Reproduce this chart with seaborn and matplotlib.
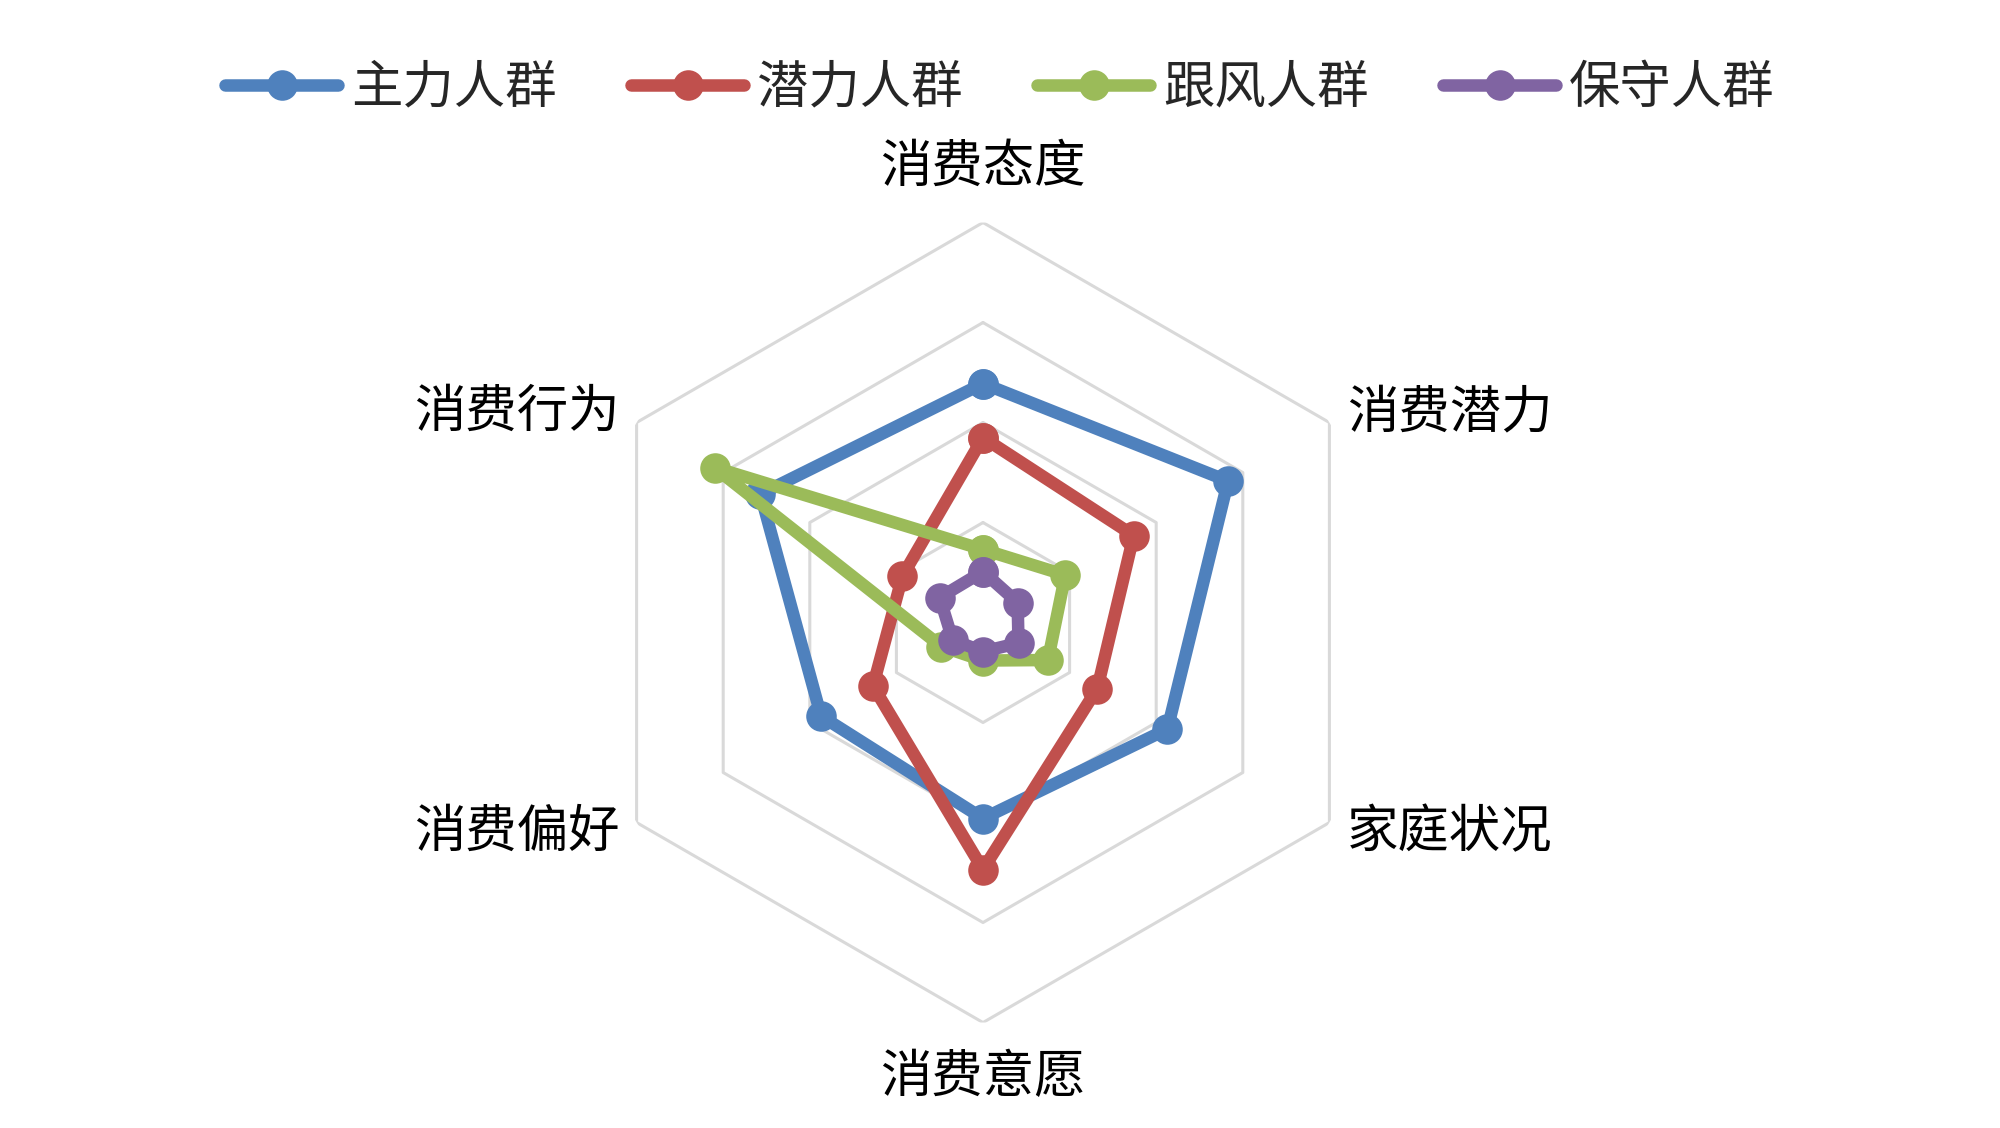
import numpy as np
import pandas as pd
import matplotlib
matplotlib.use("Agg")
import matplotlib.pyplot as plt
import seaborn as sns

# 维度（从顶部开始顺时针）
dimensions = ["消费态度", "消费潜力", "家庭状况", "消费意愿", "消费偏好", "消费行为"]
groups = ["主力人群", "潜力人群", "跟风人群", "保守人群"]

main_vals = [2.39, 2.83, 2.13, 1.96, 1.87, 2.57]
potential_vals = [1.85, 1.74, 1.32, 2.47, 1.27, 0.93]
follow_vals = [0.73, 0.95, 0.75, 0.38, 0.48, 3.10]
conservative_vals = [0.51, 0.40, 0.41, 0.29, 0.35, 0.50]

grid_levels = [1, 2, 3, 4]
colors = ["#4F81BD", "#C0504D", "#9BBB59", "#8064A2"]

sns.set_style("white")
plt.rcParams["font.family"] = ["Noto Sans CJK SC", "DejaVu Sans"]

angles = np.linspace(0, 2 * np.pi, len(dimensions), endpoint=False)
angles_closed = np.append(angles, angles[0])

rows = []
for g, vals in zip(groups, [main_vals, potential_vals, follow_vals, conservative_vals]):
    closed = list(vals) + [vals[0]]
    for i, (a, v) in enumerate(zip(angles_closed, closed)):
        rows.append({"group": g, "order": i, "theta": a, "value": v})
df = pd.DataFrame(rows)

fig = plt.figure(figsize=(20, 11.28), dpi=100)
ax = fig.add_axes([0.2915, 0.0935, 0.4, 0.70922], projection="polar")
ax.set_theta_zero_location("N")
ax.set_theta_direction(-1)

# 六边形网格
for lv in grid_levels:
    ax.plot(angles_closed, [lv] * len(angles_closed), color="#D9D9D9",
            linewidth=2.2, zorder=1)

handles = []
for g, c in zip(groups, colors):
    sub = df[df["group"] == g]
    sns.lineplot(data=sub, x="theta", y="value", ax=ax, sort=False, estimator=None,
                 color=c, linewidth=9, marker="o", markersize=22,
                 markeredgewidth=0, legend=False, zorder=3)
    ax.lines[-1].set_clip_on(False)
    handles.append(ax.lines[-1])

ax.set_ylim(0, 4)
ax.set_xticks([])
ax.set_yticks([])
ax.grid(False)
ax.spines["polar"].set_visible(False)
ax.set_xlabel("")
ax.set_ylabel("")
ax.patch.set_alpha(0)

# 维度标签
label_fs = 37
for a, name in zip(angles, dimensions):
    deg = np.degrees(a)
    if deg == 0 or deg == 180:
        ax.text(a, 4.55, name, ha="center", va="center", fontsize=label_fs, color="black")
    elif deg < 180:
        ax.text(a, 4.2, name, ha="left", va="center", fontsize=label_fs, color="black")
    else:
        ax.text(a, 4.2, name, ha="right", va="center", fontsize=label_fs, color="black")

fig.legend(handles, groups, loc="center", bbox_to_anchor=(0.5, 1 - 88 / 1128),
           ncol=4, frameon=False, fontsize=label_fs, handlelength=2.2,
           handletextpad=0.25, columnspacing=1.45)

fig.savefig("out.png", dpi=100, facecolor="white")
